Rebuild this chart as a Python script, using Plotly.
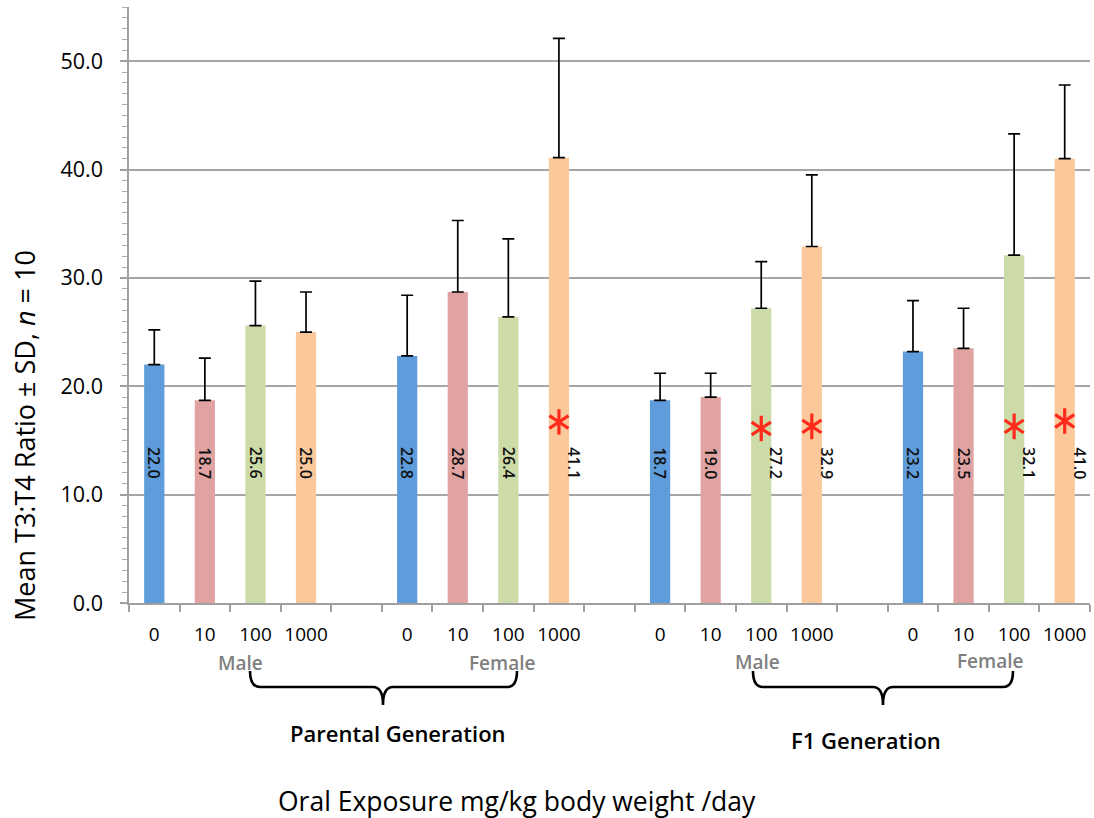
import plotly.graph_objects as go

# ---------------- data ----------------
groups = ["Parental Male", "Parental Female", "F1 Male", "F1 Female"]
doses = ["0", "10", "100", "1000"]
dose_colors = ["#5E9CDB", "#E0A3A2", "#CCDBA8", "#FBC89C"]
means = [22.0, 18.7, 25.6, 25.0,
         22.8, 28.7, 26.4, 41.1,
         18.7, 19.0, 27.2, 32.9,
         23.2, 23.5, 32.1, 41.0]
sd = [3.2, 3.9, 4.1, 3.7,
      5.6, 6.6, 7.2, 11.0,
      2.5, 2.2, 4.3, 6.6,
      4.7, 3.7, 11.2, 6.8]
significant = [False, False, False, False,
               False, False, False, True,
               False, False, True, True,
               False, False, True, True]
star_y = [16.7, 16.1, 16.3, 16.3, 16.8]
sex_labels = ["Male", "Female", "Male", "Female"]
generation_labels = ["Parental Generation", "F1 Generation"]
y_ticks = [0, 10, 20, 30, 40, 50]

# ---------------- layout geometry (pixels) ----------------
W, H = 1094, 818
PL, PR, PT, PB = 129, 1090, 7, 603   # plot area


def px(x):
    return (x - PL) / (PR - PL)


def py(y):
    return (PB - y) / (PB - PT)


# category slots (with empty gap slots between groups)
slots, ticktext, bar_x = [], [], []
for gi, g in enumerate(groups):
    for d in doses:
        sid = f"{g}|{d}"
        slots.append(sid)
        ticktext.append(d)
        bar_x.append(sid)
    if gi < len(groups) - 1:
        slots.append(f"gap{gi}")
        ticktext.append("")

bar_colors = [dose_colors[i % len(doses)] for i in range(len(means))]

fig = go.Figure()
fig.add_trace(go.Bar(
    x=bar_x, y=means, width=0.4,
    marker=dict(color=bar_colors, line=dict(width=0)),
    error_y=dict(type="data", array=sd, arrayminus=[0] * len(sd), symmetric=False,
                 color="black", thickness=1.7, width=6),
    showlegend=False, hoverinfo="x+y",
))

star_x = [bar_x[i] for i in range(len(bar_x)) if significant[i]]
for sym in ["y-up-open", "y-down-open"]:
    fig.add_trace(go.Scatter(
        x=star_x, y=star_y, mode="markers",
        marker=dict(symbol=sym, size=16, color="#FF2A1A",
                    line=dict(color="#FF2A1A", width=3.2)),
        showlegend=False, hoverinfo="skip",
    ))

annotations = []
for i, v in enumerate(means):
    annotations.append(dict(
        x=bar_x[i], y=12.9, xref="x", yref="y", text=f"{v:.1f}",
        textangle=90, showarrow=False, xshift=15 if significant[i] else 0,
        font=dict(family="Open Sans", size=16, color="#111111", weight=600),
    ))

# Male / Female labels
sex_pos = [(240, 663), (502, 663), (757, 662), (990, 661)]
for lab, (x, y) in zip(sex_labels, sex_pos):
    annotations.append(dict(
        x=px(x), y=py(y), xref="paper", yref="paper", text=lab, showarrow=False,
        xanchor="center", yanchor="middle",
        font=dict(family="Open Sans", size=19, color="#7F7F7F", weight=600),
    ))

gen_pos = [(398, 733), (866, 740)]
for lab, (x, y) in zip(generation_labels, gen_pos):
    annotations.append(dict(
        x=px(x), y=py(y), xref="paper", yref="paper", text=lab, showarrow=False,
        xanchor="center", yanchor="middle",
        font=dict(family="Open Sans", size=22, color="black", weight=600),
    ))

# axis titles
annotations.append(dict(
    x=px(517), y=py(801), xref="paper", yref="paper",
    text="Oral Exposure mg/kg body weight /day", showarrow=False,
    xanchor="center", yanchor="middle",
    font=dict(family="Open Sans", size=26.5, color="black"),
))
annotations.append(dict(
    x=px(24), y=py(436), xref="paper", yref="paper",
    text="Mean T3:T4 Ratio ± SD, <i>n</i> = 10", showarrow=False, textangle=-90,
    xanchor="center", yanchor="middle",
    font=dict(family="Open Sans", size=27, color="black"),
))

# braces
shapes = []
for (xl, xt, xr) in [(250, 383, 517), (753, 883, 1013)]:
    top, mid, bot, r = 671, 687, 705, 10
    pts = [
        ("M", xl, top), ("Q", xl, mid, xl + r, mid), ("L", xt - r, mid),
        ("Q", xt, mid, xt, bot), ("Q", xt, mid, xt + r, mid), ("L", xr - r, mid),
        ("Q", xr, mid, xr, top),
    ]
    path = ""
    for p in pts:
        cmd = p[0]
        coords = p[1:]
        s = " ".join(f"{px(coords[k]):.5f},{py(coords[k + 1]):.5f}" for k in range(0, len(coords), 2))
        path += f"{cmd} {s} "
    shapes.append(dict(type="path", path=path.strip(), xref="paper", yref="paper",
                       line=dict(color="black", width=2.6)))

fig.update_layout(
    width=W, height=H,
    margin=dict(l=PL, r=W - PR, t=PT, b=H - PB, pad=0),
    paper_bgcolor="white", plot_bgcolor="white",
    font=dict(family="Open Sans", color="black"),
    annotations=annotations, shapes=shapes,
    xaxis=dict(
        type="category", categoryorder="array", categoryarray=slots,
        tickmode="array", tickvals=slots, ticktext=ticktext, tickson="boundaries",
        tickangle=0, automargin=False,
        ticks="outside", ticklen=7, tickwidth=1.5, tickcolor="#A0A0A0",
        showline=True, linecolor="#A0A0A0", linewidth=1.5,
        showgrid=False, range=[-0.5, len(slots) - 0.5],
        tickfont=dict(family="Open Sans", size=19, color="black", weight=500),
        ticklabelstandoff=13, fixedrange=True,
    ),
    yaxis=dict(
        range=[0, 55], tickmode="array", tickvals=y_ticks,
        ticktext=[f"{t:.1f}" for t in y_ticks], automargin=False,
        showgrid=True, gridcolor="#A6A6A6", gridwidth=1.5, zeroline=False,
        showline=True, linecolor="#A0A0A0", linewidth=1.5,
        ticks="outside", ticklen=7, tickwidth=1.5, tickcolor="#A0A0A0",
        minor=dict(dtick=1, tick0=0, ticks="outside", ticklen=5, tickwidth=1,
                   tickcolor="#B0B0B0", showgrid=False),
        tickfont=dict(family="Open Sans", size=21.5, color="black", weight=500),
        ticklabelstandoff=13, fixedrange=True,
    ),
)

fig.write_html("out.html", config={"displayModeBar": False},
               post_script="document.body.style.margin='0';")
